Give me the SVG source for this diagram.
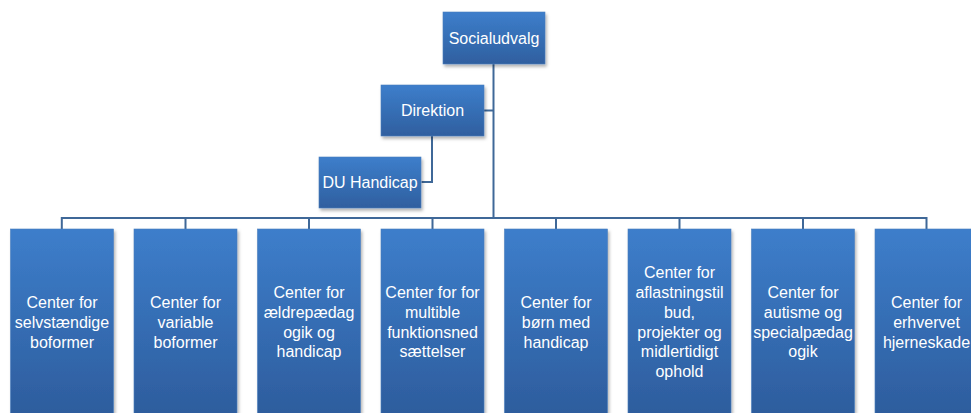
<svg xmlns="http://www.w3.org/2000/svg" width="971" height="413" viewBox="0 0 971 413">
<defs>
<linearGradient id="g" x1="0" y1="0" x2="0" y2="1">
<stop offset="0" stop-color="#3D7ECB"/>
<stop offset="1" stop-color="#2D5C9C"/>
</linearGradient>
<linearGradient id="gs" x1="0" y1="0" x2="0" y2="1">
<stop offset="0" stop-color="#3D7ECB"/>
<stop offset="1" stop-color="#2F5F9F"/>
</linearGradient>
<filter id="sh" x="-10%" y="-10%" width="125%" height="130%">
<feDropShadow dx="1.5" dy="2.5" stdDeviation="1.8" flood-color="#000" flood-opacity="0.3"/>
</filter>
</defs>
<style>
.box{fill:url(#g);stroke:#4A7DBD;stroke-width:0.6;filter:url(#sh)}
.top{fill:url(#gs)}
.t{font-family:"Liberation Sans",Arial,sans-serif;font-size:16px;fill:#FFFFFF;text-anchor:middle}
.c{fill:none;stroke:#3F6898;stroke-width:2}
</style>
<rect width="971" height="413" fill="#FFFFFF"/>
<g id="connectors">
<path class="c" d="M493.5 64V218"/>
<path class="c" d="M484 110.5H493.5"/>
<path class="c" d="M432 136V182H421.5"/>
<path class="c" d="M61.8 229V218H926.5V229"/>
<path class="c" d="M185.5 218V229M309 218V229M432.5 218V229M556 218V229M679.5 218V229M803 218V229"/>
</g>
<g id="socialudvalg">
<rect class="box top" x="443" y="12" width="102" height="52"/>
<text class="t" x="494" y="43.5">Socialudvalg</text>
</g>
<g id="direktion">
<rect class="box top" x="381" y="85" width="103" height="51"/>
<text class="t" x="432.5" y="116">Direktion</text>
</g>
<g id="du-handicap">
<rect class="box top" x="319" y="157" width="102" height="51"/>
<text class="t" x="370" y="188">DU Handicap</text>
</g>
<g id="c1">
<rect class="box" x="10.5" y="229" width="103" height="190"/>
<text class="t"><tspan x="62" y="308.3">Center for</tspan><tspan x="62" y="328">selvstændige</tspan><tspan x="62" y="347.7">boformer</tspan></text>
</g>
<g id="c2">
<rect class="box" x="134" y="229" width="103" height="190"/>
<text class="t"><tspan x="185.5" y="308.3">Center for</tspan><tspan x="185.5" y="328">variable</tspan><tspan x="185.5" y="347.7">boformer</tspan></text>
</g>
<g id="c3">
<rect class="box" x="257.5" y="229" width="103" height="190"/>
<text class="t"><tspan x="309" y="298.1">Center for</tspan><tspan x="309" y="317.8">ældrepædag</tspan><tspan x="309" y="337.5">ogik og</tspan><tspan x="309" y="357.2">handicap</tspan></text>
</g>
<g id="c4">
<rect class="box" x="381" y="229" width="103" height="190"/>
<text class="t"><tspan x="432.5" y="298.1">Center for for</tspan><tspan x="432.5" y="317.8">multible</tspan><tspan x="432.5" y="337.5">funktionsned</tspan><tspan x="432.5" y="357.2">sættelser</tspan></text>
</g>
<g id="c5">
<rect class="box" x="504.5" y="229" width="103" height="190"/>
<text class="t"><tspan x="556" y="308.3">Center for</tspan><tspan x="556" y="328">børn med</tspan><tspan x="556" y="347.7">handicap</tspan></text>
</g>
<g id="c6">
<rect class="box" x="628" y="229" width="103" height="190"/>
<text class="t"><tspan x="679.5" y="278.4">Center for</tspan><tspan x="679.5" y="298.1">aflastningstil</tspan><tspan x="679.5" y="317.8">bud,</tspan><tspan x="679.5" y="337.5">projekter og</tspan><tspan x="679.5" y="357.2">midlertidigt</tspan><tspan x="679.5" y="376.9">ophold</tspan></text>
</g>
<g id="c7">
<rect class="box" x="751.5" y="229" width="103" height="190"/>
<text class="t"><tspan x="803" y="298.1">Center for</tspan><tspan x="803" y="317.8">autisme og</tspan><tspan x="803" y="337.5">specialpædag</tspan><tspan x="803" y="357.2">ogik</tspan></text>
</g>
<g id="c8">
<rect class="box" x="875" y="229" width="103" height="190"/>
<text class="t"><tspan x="926.5" y="308.3">Center for</tspan><tspan x="926.5" y="328">erhvervet</tspan><tspan x="926.5" y="347.7">hjerneskade</tspan></text>
</g>
</svg>
